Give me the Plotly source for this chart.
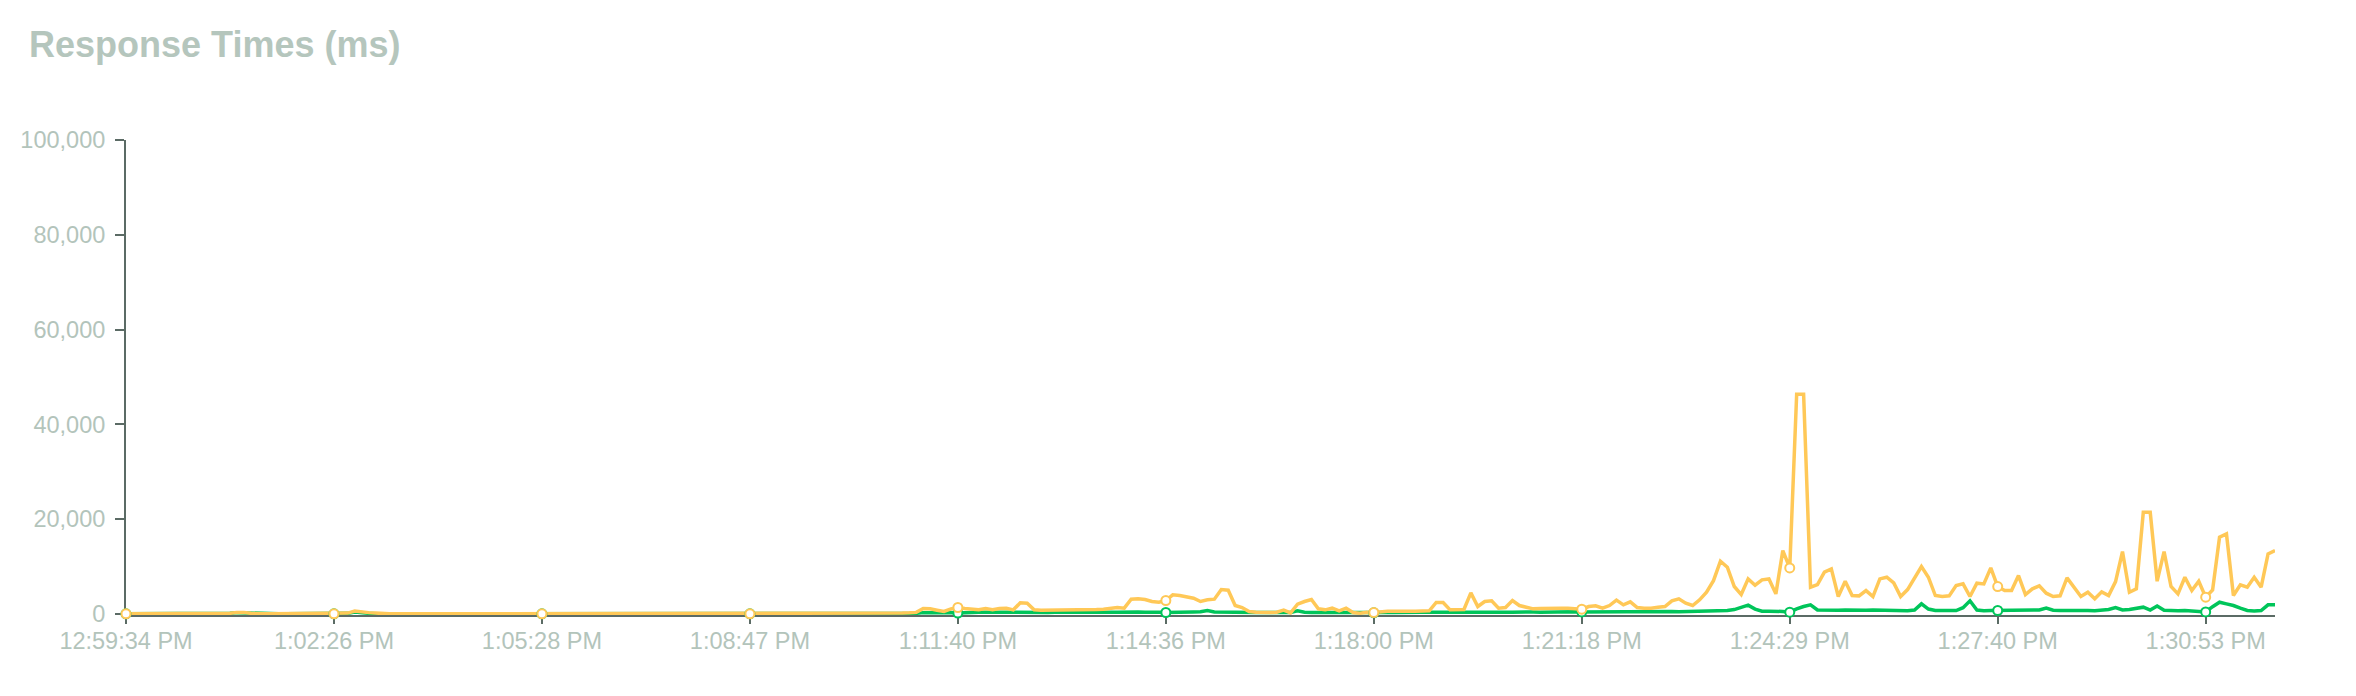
import plotly.graph_objects as go

# ---- data -------------------------------------------------------------
tick_labels = ["12:59:34 PM", "1:02:26 PM", "1:05:28 PM", "1:08:47 PM", "1:11:40 PM",
               "1:14:36 PM", "1:18:00 PM", "1:21:18 PM", "1:24:29 PM", "1:27:40 PM",
               "1:30:53 PM"]
tick_index = [0, 30, 60, 90, 120, 150, 180, 210, 240, 270, 300]

# upper series (yellow), one value per sample
series_high = [
    0, 0, 0, 0, 0, 0, 0, 0, 0, 0,
    0, 0, 0, 0, 0, 100, 300, 300, 100, 0,
    0, 0, 0, 0, 0, 0, 0, 0, 0, 0,
    0, 0, 150, 600, 350, 250, 150, 0, 0, 0,
    0, 0, 0, 0, 0, 0, 0, 0, 0, 0,
    0, 0, 0, 0, 0, 0, 0, 0, 0, 0,
    0, 0, 0, 0, 0, 0, 0, 0, 0, 0,
    0, 0, 100, 150, 150, 100, 0, 0, 0, 0,
    0, 0, 0, 0, 0, 0, 0, 0, 0, 0,
    0, 0, 0, 0, 0, 0, 0, 0, 0, 0,
    0, 0, 0, 0, 0, 0, 0, 0, 0, 0,
    100, 150, 150, 200, 300, 1120, 1050, 770, 490, 1050,
    1330, 1120, 1050, 840, 1120, 840, 1120, 1190, 840, 2320,
    2250, 840, 770, 770, 770, 770, 840, 840, 840, 840,
    910, 980, 1190, 1330, 1190, 3090, 3160, 3020, 2600, 2460,
    2810, 4000, 3860, 3510, 3300, 2600, 2950, 3090, 5120, 4980,
    1750, 1330, 490, 350, 280, 280, 350, 770, 210, 2040,
    2600, 3020, 1050, 840, 1190, 630, 1190, 280, 140, 350,
    280, 490, 560, 560, 490, 560, 560, 560, 630, 2390,
    2390, 840, 840, 910, 4420, 1540, 2600, 2740, 1190, 1330,
    2810, 1750, 1400, 1050, 1120, 1190, 1190, 1190, 1190, 1120,
    980, 1540, 1680, 1190, 1750, 2880, 1890, 2530, 1330, 1190,
    1190, 1400, 1540, 2740, 3160, 2250, 1750, 2950, 4560, 7000,
    11090, 9830, 5760, 4070, 7370, 6040, 7160, 7370, 4210, 13340,
    9690, 46330, 46330, 5620, 6180, 8780, 9480, 3650, 6880, 3860,
    3790, 4910, 3650, 7370, 7720, 6530, 3650, 5120, 7720, 9970,
    7720, 3860, 3650, 3790, 5970, 6320, 3650, 6460, 6320, 9690,
    5760, 4910, 4910, 8070, 4070, 5270, 5900, 4350, 3650, 3790,
    7580, 5620, 3650, 4560, 3160, 4630, 3860, 6810, 13130, 4560,
    5270, 21410, 21410, 6880, 13130, 5760, 4210, 7720, 4910, 6880,
    3510, 5050, 16150, 16850, 3860, 6110, 5620, 7720, 5620, 12640,
    13340,
]

# lower series (green)
series_low = [
    0, 0, 0, 0, 0, 0, 0, 0, 0, 0,
    0, 0, 0, 0, 0, 100, 250, 200, 50, 0,
    0, 0, 0, 0, 0, 0, 0, 0, 0, 0,
    0, 0, 100, 400, 200, 100, 0, 0, 0, 0,
    0, 0, 0, 0, 0, 0, 0, 0, 0, 0,
    0, 0, 0, 0, 0, 0, 0, 0, 0, 0,
    0, 0, 0, 0, 0, 0, 0, 0, 0, 0,
    0, 0, 0, 100, 100, 0, 0, 0, 0, 0,
    0, 0, 0, 0, 0, 0, 0, 0, 0, 0,
    0, 0, 0, 0, 0, 0, 0, 0, 0, 0,
    0, 0, 0, 0, 0, 0, 0, 0, 0, 0,
    0, 50, 50, 50, 100, 250, 300, 300, 280, 300,
    150, 280, 300, 320, 300, 300, 280, 300, 320, 300,
    300, 280, 300, 300, 320, 300, 300, 280, 300, 320,
    300, 300, 320, 350, 300, 350, 380, 350, 400, 350,
    280, 350, 400, 350, 380, 420, 700, 400, 350, 380,
    350, 300, 300, 280, 300, 300, 280, 320, 300, 630,
    350, 300, 320, 300, 300, 280, 300, 300, 280, 300,
    200, 300, 320, 300, 350, 320, 300, 320, 350, 400,
    350, 320, 350, 400, 350, 320, 350, 400, 350, 320,
    350, 400, 350, 380, 350, 400, 420, 380, 400, 420,
    400, 420, 450, 400, 420, 450, 480, 450, 420, 450,
    480, 450, 500, 480, 450, 500, 520, 480, 500, 550,
    600, 700, 900, 1300, 1830, 1000, 550, 550, 550, 500,
    350, 1050, 1540, 1900, 800, 750, 700, 750, 800, 750,
    700, 750, 800, 750, 700, 750, 700, 650, 800, 2100,
    1000, 700, 700, 650, 700, 1300, 2750, 800, 650, 700,
    700, 700, 750, 700, 650, 700, 800, 1200, 750, 700,
    700, 850, 750, 700, 650, 700, 900, 1300, 800, 900,
    1100, 1400, 800, 1650, 750, 650, 650, 700, 650, 600,
    400, 1500, 2450, 2100, 1750, 1200, 700, 600, 700, 1900,
    1900,
]

y_ticks = [0, 20000, 40000, 60000, 80000, 100000]

# ---- style ------------------------------------------------------------
YELLOW = "#ffc857"
GREEN = "#00c55a"
AXIS = "#5b6b65"
LABEL = "#b3c4bb"
FONT = "Liberation Sans, Arial, Helvetica, sans-serif"

# figure sized to fit inside the page's default 8px body margin
W, H = 2348, 688

x_idx = list(range(len(series_high)))

fig = go.Figure()
for series, color in ((series_low, GREEN), (series_high, YELLOW)):
    fig.add_trace(go.Scatter(
        x=x_idx, y=series, mode="lines",
        line=dict(color=color, width=3.5, shape="linear"),
        hoverinfo="skip", showlegend=False,
    ))
for series, color in ((series_low, GREEN), (series_high, YELLOW)):
    fig.add_trace(go.Scatter(
        x=tick_index, y=[series[i] for i in tick_index], mode="markers",
        marker=dict(symbol="circle", size=9, color="white",
                    line=dict(color=color, width=2)),
        cliponaxis=False, hoverinfo="skip", showlegend=False,
    ))

fig.update_layout(
    width=W, height=H,
    margin=dict(l=108, r=81, t=132, b=81),
    paper_bgcolor="white", plot_bgcolor="white",
    font=dict(family=FONT, color=LABEL),
    title=dict(text="<b>Response Times (ms)</b>",
               font=dict(family=FONT, size=36, color="#b5c6bd"),
               xref="container", yref="container",
               x=21 / W, xanchor="left",
               y=1 - 36 / H, yanchor="middle"),
    xaxis=dict(range=[0, len(series_high) - 1],
               tickvals=tick_index, ticktext=tick_labels,
               showgrid=False, zeroline=False,
               showline=True, linecolor=AXIS, linewidth=2,
               ticks="outside", ticklen=7, tickwidth=2, tickcolor=AXIS,
               tickfont=dict(family=FONT, size=23.5, color=LABEL),
               ticklabelstandoff=-3,
               layer="below traces"),
    yaxis=dict(range=[-250, 100000],
               tickvals=y_ticks, tickformat=",",
               showgrid=False, zeroline=False,
               showline=True, linecolor=AXIS, linewidth=2,
               ticks="outside", ticklen=9, tickwidth=2, tickcolor=AXIS,
               tickfont=dict(family=FONT, size=23.5, color=LABEL),
               ticklabelstandoff=5,
               layer="below traces"),
    hovermode=False,
)

fig.write_html("out.html")
